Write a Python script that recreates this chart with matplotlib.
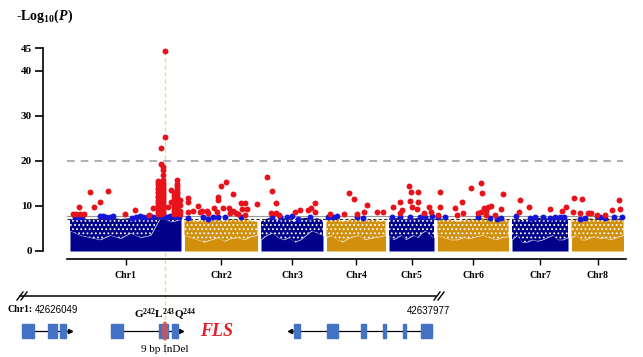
import matplotlib.pyplot as plt
import numpy as np
from matplotlib.patches import Rectangle, Ellipse

plt.rcParams['mathtext.fontset'] = 'custom'
plt.rcParams['mathtext.rm'] = 'Liberation Serif:bold'
plt.rcParams['mathtext.bf'] = 'Liberation Serif:bold'
plt.rcParams['mathtext.it'] = 'Liberation Serif:italic:bold'
plt.rcParams['hatch.linewidth'] = 0.8

chroms = ['Chr1', 'Chr2', 'Chr3', 'Chr4', 'Chr5', 'Chr6', 'Chr7', 'Chr8']
chrom_len = [111, 73, 62, 59, 45, 71, 56, 52]
chrom_gap = 3.5
body_colors = ['#00008B', '#D18F0B']

# dense cloud of SNPs, sampled evenly along each chromosome:
# top of the speckled cloud and top of the solid core (-log10 P)
body_top = [
    [7.0, 7.3, 7.0, 7.2, 7.4, 7.1, 7.3, 7.0, 7.4, 7.7, 7.7, 7.6],
    [6.8, 7.0, 6.5, 7.2, 6.8, 7.0, 6.6, 7.1, 6.9, 7.2, 6.7, 6.5],
    [6.5, 7.2, 7.4, 6.8, 7.3, 7.0, 6.5, 7.2, 7.4, 7.0, 7.3, 6.8],
    [6.8, 7.0, 7.2, 6.5, 6.8, 7.1, 7.0, 6.6, 6.9, 7.0, 6.5, 6.8],
    [7.2, 7.0, 7.4, 7.3, 7.0, 7.4, 7.2, 7.3, 7.5, 7.4, 7.2, 7.0],
    [7.0, 6.8, 7.0, 6.5, 6.8, 7.2, 7.0, 7.3, 7.0, 6.8, 7.1, 6.9],
    [7.0, 7.3, 6.8, 7.0, 7.2, 7.4, 7.2, 7.3, 7.0, 7.2, 7.3, 7.0],
    [7.0, 7.2, 6.8, 7.0, 7.3, 7.0, 6.8, 7.1, 7.2, 7.0, 7.3, 7.2],
]
body_core = [
    [4.5, 3.5, 3.0, 2.5, 3.5, 2.8, 4.0, 3.0, 3.5, 7.5, 6.5, 7.0],
    [3.5, 3.0, 2.5, 2.0, 2.5, 3.0, 2.2, 2.8, 3.0, 2.5, 3.2, 3.5],
    [2.5, 3.5, 4.0, 3.0, 2.5, 3.0, 2.0, 2.5, 3.5, 4.5, 4.0, 3.5],
    [3.0, 3.5, 2.5, 2.0, 2.8, 3.2, 3.5, 2.5, 2.8, 3.0, 3.2, 3.5],
    [3.5, 2.5, 3.0, 3.5, 2.5, 3.0, 3.5, 3.0, 4.0, 4.5, 3.5, 3.0],
    [3.5, 3.0, 2.5, 2.5, 3.0, 2.8, 3.2, 3.5, 3.0, 2.5, 3.0, 3.2],
    [2.5, 3.5, 2.0, 2.0, 2.5, 2.2, 2.5, 3.0, 3.5, 2.5, 2.5, 3.0],
    [3.0, 3.5, 2.5, 2.5, 3.0, 3.2, 2.8, 3.0, 2.5, 2.8, 3.2, 3.5],
]

# suggestive SNPs (blue) just above the cloud
blue_pos = [
    [5, 8, 12, 30, 33, 36, 40, 43, 62, 66, 70, 73, 77, 80, 83, 88, 91, 94, 97, 100, 103, 106, 109],
    [3.5, 18.5, 23.5, 28.5, 33.5, 40.5, 56.5],
    [11, 19, 26, 31, 37, 49],
    [1.5, 6.5, 10.5, 30.5, 36.5],
    [3, 11, 21, 31, 36, 43],
    [0.5, 7.5, 40.5, 52.5, 59.5, 63.5],
    [4, 18, 23, 31, 38, 43, 48, 52],
    [8.5, 13.5, 25.5, 28.5, 33.5, 42.5, 50.5],
]
blue_val = [
    [7.6, 7.5, 7.6, 7.7, 7.8, 7.6, 7.5, 7.7, 7.4, 7.6, 7.7, 7.5, 7.6, 7.8, 7.6, 7.7, 7.8, 7.7, 7.6, 7.7, 7.8, 7.7, 7.6],
    [7.3, 7.5, 7.1, 7.6, 7.5, 7.6, 7.5],
    [7.6, 7.5, 7.6, 7.7, 7.2, 7.6],
    [7.6, 7.5, 7.7, 7.6, 7.4],
    [7.6, 7.6, 7.6, 7.5, 7.6, 7.7],
    [7.5, 7.5, 7.6, 7.4, 7.2, 7.3],
    [7.7, 7.4, 7.5, 7.6, 7.4, 7.6, 7.6, 7.5],
    [7.2, 7.4, 7.7, 7.5, 7.4, 7.6, 7.6],
]

# significant SNPs (red)
red_pos = [
    [3, 6, 10, 14, 9, 20, 24, 30, 38, 55, 65, 79, 83, 98, 101, 101, 110, 110, 110, 110, 91, 91],
    [3.5, 3.5, 3.5, 8.5, 13.5, 15.5, 17.5, 22.5, 23.5, 29.5, 32.5, 33.5, 33.5, 36.5, 41.5, 38.5, 44.5,
     48.5, 48.5, 51.5, 56.5, 60.5, 57.5, 60.5, 62.5, 72.5, 45.5, 53.5],
    [6, 11, 15, 10, 15, 18, 34, 39, 47, 50, 54, 54],
    [3.5, 17.5, 22.5, 27.5, 30.5, 37.5, 40.5, 50.5, 56.5],
    [4, 11, 13, 11, 20, 22, 21, 23, 28, 29, 29, 40, 42, 35],
    [2.5, 2.5, 0.5, 17.5, 19.5, 24.5, 25.5, 33.5, 43.5, 44.5, 40.5, 43.5, 48.5, 50.5, 53.5, 48.5,
     57.5, 63.5, 65.5, 46.5],
    [8, 7, 17, 38, 50, 54],
    [2.5, 10.5, 1.5, 8.5, 16.5, 19.5, 25.5, 33.5, 40.5, 47.5, 48.5],
]
red_val = [
    [8.2, 8.2, 8.2, 8.2, 9.8, 13.1, 9.8, 10.9, 13.3, 8.2, 9.1, 8.0, 9.6, 9.8, 13.5, 11.0, 8.3, 9.0,
     10.3, 11.4, 19.3, 22.9],
    [11.8, 10.9, 8.7, 8.9, 10.0, 8.7, 8.9, 8.9, 8.5, 9.6, 8.7, 12.0, 11.3, 14.4, 15.3, 9.6, 9.6,
     12.7, 8.9, 8.4, 10.7, 10.7, 9.3, 8.0, 9.3, 10.4, 8.5, 8.3],
    [16.4, 13.3, 10.7, 8.4, 8.4, 7.9, 8.7, 9.1, 9.1, 9.6, 10.7, 8.7],
    [8.2, 8.2, 12.9, 11.6, 8.2, 8.7, 10.2, 8.7, 8.7],
    [9.8, 10.9, 9.1, 8.4, 14.4, 13.1, 11.1, 9.8, 9.3, 13.1, 10.9, 9.8, 8.7, 8.5],
    [13.1, 9.8, 8.0, 9.6, 8.0, 10.9, 8.4, 14.0, 15.1, 12.9, 8.4, 8.7, 8.9, 9.8, 10.0, 8.0,
     8.0, 9.3, 12.7, 9.5],
    [11.3, 8.7, 9.8, 9.3, 8.9, 9.8],
    [11.8, 11.6, 8.7, 8.4, 8.4, 8.4, 8.0, 8.0, 9.1, 11.3, 9.3],
]

# the dense peak on Chr1 around FLS, one column of SNPs per position
chr1_peak_columns = {
    88: [8.2, 8.7, 9.1, 9.6, 10.0, 10.5, 11.0, 11.4, 11.9, 12.3, 12.8, 13.2, 13.7, 14.1, 14.6, 15.1, 15.6],
    90.5: [8.3, 8.8, 9.2, 9.7, 10.1, 10.6, 11.0, 11.5, 12.0, 12.4, 12.9, 13.3, 13.8, 14.2, 14.7, 15.3],
    93: [8.4, 8.9, 9.3, 9.8, 10.2, 10.7, 11.1, 11.6, 12.0, 12.5, 12.9, 13.4, 13.8, 14.3, 14.7, 15.2,
         15.8, 16.9, 18.0, 18.7],
    95: [25.3, 44.5],
    104: [8.2, 8.7, 9.2, 9.8, 10.3, 10.9, 11.5, 12.2, 13.0],
    107: [8.4, 9.0, 9.6, 10.2, 10.8, 11.4, 12.0, 12.6, 13.2, 13.8, 14.4, 15.0, 15.8],
}
fls_pos = 95

sig_line = 20
sugg_line = 7.8
sugg_line2 = 7.1

# gene structures below the plot (drawing units = pixels of the figure)
left_gene_exons = [(22, 34), (48, 57), (60, 66)]
fls_exons = [(111, 123), (159, 168), (172, 178)]
right_gene_exons = [(294, 300), (327, 338), (361, 366), (383, 386), (403, 406), (421, 432)]

fig = plt.figure(figsize=(6.43, 3.57), dpi=100)
W, H = 643, 357
ax = fig.add_axes([43 / W, (H - 259) / H, (630 - 43) / W, (259 - 40) / H])
ax.set_xlim(-27, 560)
ax.set_ylim(-8 / 4.5, 219 / 4.5 - 8 / 4.5)

starts = np.cumsum([0] + [l + chrom_gap for l in chrom_len[:-1]])
centers = starts + np.array(chrom_len) / 2

for i, (s, l) in enumerate(zip(starts, chrom_len)):
    col = body_colors[i % 2]
    x = np.linspace(s, s + l, len(body_top[i]))
    core = np.array(body_core[i])
    top = np.array(body_top[i])
    ax.fill_between(x, 0, core, color=col, lw=0, zorder=2)
    ax.fill_between(x, core, top, facecolor=col, edgecolor='white', hatch='....',
                    lw=0, zorder=2)
    ax.scatter(s + np.array(blue_pos[i]), blue_val[i], s=18, color='#1515D8', lw=0, zorder=4)
    ax.scatter(s + np.array(red_pos[i]), red_val[i], s=18, color='#E8121B', lw=0, zorder=5)

for p, vals in chr1_peak_columns.items():
    ax.scatter(np.full(len(vals), starts[0] + p), vals, s=18, color='#E8121B', lw=0, zorder=5)

ax.plot([-3, 553], [sig_line, sig_line], color='#9A9A9A', lw=1.1, ls=(0, (5, 4)), zorder=1)
ax.plot([-3, 553], [sugg_line, sugg_line], color='#9A9A9A', lw=0.8, zorder=3)
ax.plot([-3, 553], [sugg_line2, sugg_line2], color='#333333', lw=0.8, ls=(0, (3, 2)), zorder=3)

fx = starts[0] + fls_pos
ax.plot([fx, fx], [44.5, -23.6], color='#E6D79A', lw=1.0, ls=(0, (3, 2)), zorder=1,
        clip_on=False)

for side in ['top', 'right']:
    ax.spines[side].set_visible(False)
ax.spines['left'].set_bounds(0, 45)
ax.spines['bottom'].set_bounds(-3, 556)
ax.spines['left'].set_linewidth(1.2)
ax.spines['bottom'].set_linewidth(1.2)
ax.set_yticks([0, 10, 20, 30, 40, 45])
ax.set_xticks(centers)
ax.set_xticklabels(chroms)
ax.tick_params(axis='y', length=6, width=1.2, pad=2)
ax.tick_params(axis='x', length=4, width=1.0, pad=5)
for lab in ax.get_yticklabels():
    lab.set_fontfamily('Liberation Serif')
    lab.set_fontweight('bold')
    lab.set_fontsize(8)
for lab in ax.get_xticklabels():
    lab.set_fontfamily('Liberation Serif')
    lab.set_fontweight('bold')
    lab.set_fontsize(7)

fig.text(16 / W, 1 - 16 / H, '-Log$_{\\mathbf{10}}$($P$)', family='Liberation Serif',
         weight='bold', fontsize=10, va='center', ha='left')

# gene panel
g = fig.add_axes([0, 0, 1, 1], facecolor='none')
g.set_xlim(0, W)
g.set_ylim(H, 0)
g.axis('off')

g.plot([20, 436], [296, 296], color='black', lw=1.1)
for bx in (17, 434):
    for dx in (0, 4):
        g.plot([bx + dx, bx + dx + 6], [300, 292], color='black', lw=1.0)

g.text(8, 310, 'Chr1:', family='Liberation Serif', weight='bold', fontsize=7, va='center')
g.text(35, 310, '42626049', family='Liberation Sans', fontsize=7, va='center')
g.text(428, 311, '42637977', family='Liberation Sans', fontsize=7, va='center', ha='center')

gy = 331
exon_h = 14
exon_col = '#4472C4'


def draw_gene(exons, x0, x1, arrow_right):
    g.plot([x0, x1], [gy, gy], color='black', lw=0.9, zorder=1)
    if arrow_right:
        g.plot([x1], [gy], marker='>', ms=3, color='black', zorder=1)
    else:
        g.plot([x0], [gy], marker='<', ms=3, color='black', zorder=1)
    for a, b in exons:
        g.add_patch(Rectangle((a, gy - exon_h / 2), b - a, exon_h, color=exon_col, zorder=2))


draw_gene(left_gene_exons, 22, 70, True)
draw_gene(fls_exons, 111, 181, True)
draw_gene(right_gene_exons, 290, 432, False)
g.add_patch(Ellipse((165, gy), 5, 18, color='#D9534F', alpha=0.75, zorder=3))

g.text(165, 318, 'G$^{242}$L$^{243}$Q$^{244}$', family='Liberation Serif', weight='bold',
       fontsize=8, ha='center', va='baseline')
g.text(165, 349, '9 bp InDel', family='Liberation Serif', fontsize=8, ha='center', va='center')
g.text(200, 331, 'FLS', family='Liberation Serif', weight='bold', style='italic',
       color='#E0202A', fontsize=13, ha='left', va='center')

fig.savefig('out.png', dpi=100)
